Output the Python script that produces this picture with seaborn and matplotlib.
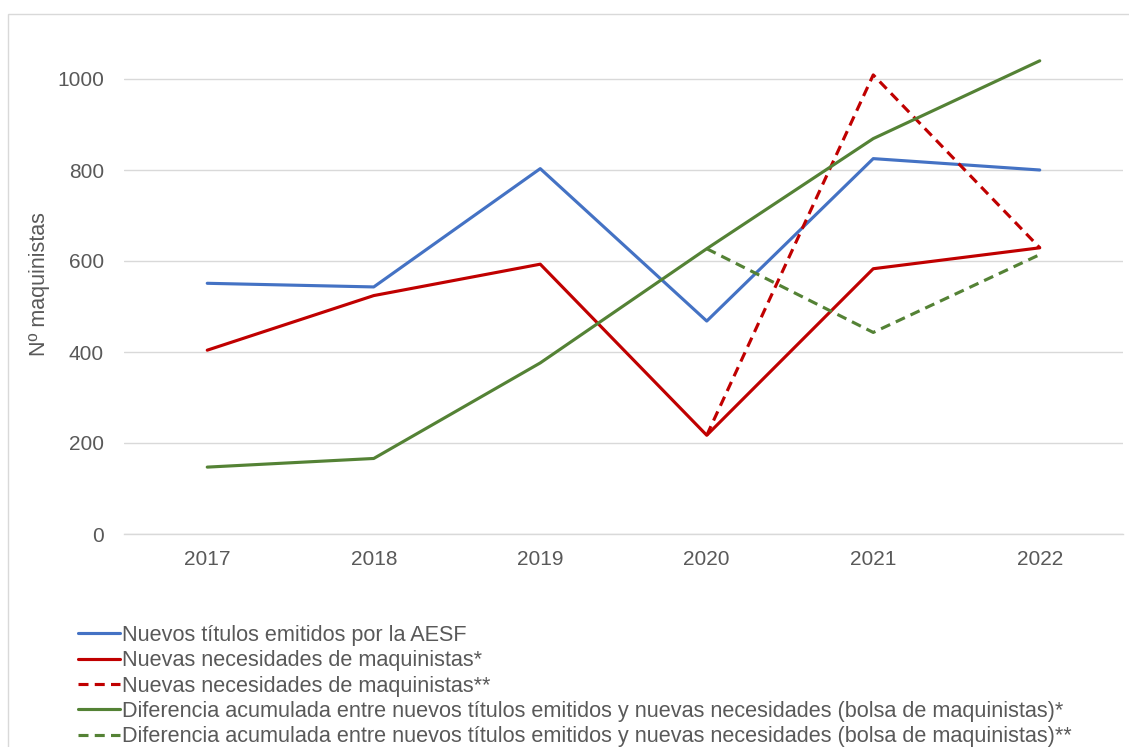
import matplotlib
matplotlib.use("Agg")
import matplotlib.pyplot as plt
import seaborn as sns
import pandas as pd
import numpy as np
from matplotlib.patches import Rectangle

years = ["2017", "2018", "2019", "2020", "2021", "2022"]
titulos = [551, 543, 803, 468, 825, 800]
necesidades = [404, 524, 593, 217, 583, 629]
necesidades_2 = [np.nan, np.nan, np.nan, 217, 1009, 629]
bolsa = [147, 166, 376, 627, 869, 1040]
bolsa_2 = [np.nan, np.nan, np.nan, 627, 443, 614]

labels = [
    "Nuevos títulos emitidos por la AESF",
    "Nuevas necesidades de maquinistas*",
    "Nuevas necesidades de maquinistas**",
    "Diferencia acumulada entre nuevos títulos emitidos y nuevas necesidades (bolsa de maquinistas)*",
    "Diferencia acumulada entre nuevos títulos emitidos y nuevas necesidades (bolsa de maquinistas)**",
]
series = [titulos, necesidades, necesidades_2, bolsa, bolsa_2]
colors = ["#4472C4", "#C00000", "#C00000", "#548235", "#548235"]
dashed = [False, False, True, False, True]

sns.set_theme(style="white")
plt.rcParams["font.family"] = ["Liberation Sans", "DejaVu Sans"]
text_color = "#595959"
grid_color = "#D9D9D9"

fig = plt.figure(figsize=(11.29, 7.47), dpi=100)
ax = fig.add_axes([124 / 1129, 1 - 534 / 747, 999 / 1129, (534 - 33.5) / 747])

pos = list(range(len(years)))
for vals, lab, col, dsh in zip(series, labels, colors, dashed):
    df = pd.DataFrame({"pos": pos, "val": vals}).dropna()
    sns.lineplot(data=df, x="pos", y="val", ax=ax, color=col,
                 linewidth=2.25, label=lab)
    if dsh:
        ax.lines[-1].set_dashes((3.2, 2.0))
        ax.lines[-1].set_dash_capstyle("butt")

ax.set_xlim(-0.5, len(years) - 0.5)
ax.set_ylim(0, 1100)
ax.set_yticks([0, 200, 400, 600, 800, 1000])
ax.set_xticks(pos)
ax.set_xticklabels(years)
ax.set_xlabel("")
ax.set_ylabel("Nº maquinistas", color=text_color, fontsize=15.5, labelpad=5)
ax.tick_params(axis="both", colors=text_color, labelsize=15, length=0)
ax.tick_params(axis="y", pad=14.4)
ax.tick_params(axis="x", pad=11.5)
ax.yaxis.grid(True, color=grid_color, linewidth=1.0)
ax.xaxis.grid(False)
ax.set_axisbelow(True)
for s in ["top", "right", "left"]:
    ax.spines[s].set_visible(False)
ax.spines["bottom"].set_color(grid_color)
ax.spines["bottom"].set_linewidth(1.0)
if ax.get_legend():
    ax.get_legend().remove()

handles = ax.lines[:5]
leg = fig.legend(handles, labels, loc="upper left",
                 bbox_to_anchor=(78 / 1129, 1 - 625 / 747),
                 frameon=False, fontsize=15.6, handlelength=1.93,
                 handletextpad=0.1, labelspacing=0.2, borderaxespad=0,
                 borderpad=0)
for t in leg.get_texts():
    t.set_color(text_color)

fig.patches.append(Rectangle((8 / 1129, -0.1), 1.2, 1 - 14 / 747 + 0.1,
                             transform=fig.transFigure, fill=False,
                             edgecolor=grid_color, linewidth=1.0))

fig.savefig("out.png", dpi=100, facecolor="white")
